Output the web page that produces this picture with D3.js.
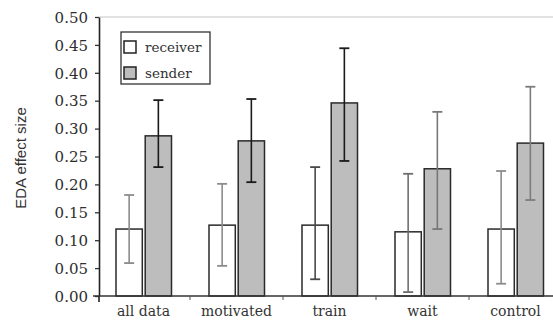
<!DOCTYPE html>
<html>
<head>
<meta charset="utf-8">
<script src="https://cdn.jsdelivr.net/npm/d3@7"></script>
<style>
    body { margin: 0; background: #fff; }
    svg { display: block; }
</style>
</head>
<body>
<svg id="chart" width="553" height="321"></svg>
<script>
// data
const categories = ["all data", "motivated", "train", "wait", "control"]
const series = ["receiver", "sender"]
const receiverMean = [0.120, 0.127, 0.127, 0.115, 0.120]
const receiverLow = [0.059, 0.054, 0.030, 0.007, 0.022]
const receiverHigh = [0.181, 0.201, 0.231, 0.219, 0.224]
const senderMean = [0.287, 0.278, 0.346, 0.228, 0.274]
const senderLow = [0.231, 0.204, 0.242, 0.120, 0.172]
const senderHigh = [0.351, 0.353, 0.444, 0.330, 0.375]
const yTicks = [0, 0.05, 0.10, 0.15, 0.20, 0.25, 0.30, 0.35, 0.40, 0.45, 0.50]

// styling (the scan has error bars in different greys)
const receiverErrColor = ["#8c8c8c", "#8c8c8c", "#4a4a4a", "#6e6e6e", "#8c8c8c"]
const senderErrColor = ["#1a1a1a", "#1a1a1a", "#1a1a1a", "#777777", "#7c7c7c"]
const serif = "'DejaVu Serif', serif"

const svg = d3.select("#chart")

const x = d3.scaleBand()
            .domain(categories)
            .range([97, 562])

const inner = d3.scaleBand()
                .domain(series)
                .range([x.bandwidth() / 2 - 27.5, x.bandwidth() / 2 + 28])
                .paddingInner(0.1)

const y = d3.scaleLinear()
            .domain([0, 0.5])
            .range([296, 17])

const fills = {receiver: "#ffffff", sender: "#bdbdbd"}

// top frame line
svg.append("line")
   .attr("x1", 99).attr("x2", 553)
   .attr("y1", y(0.5)).attr("y2", y(0.5))
   .attr("stroke", "#d8d8d8")
   .attr("stroke-width", 1.5)

// build rows from the arrays
let rows = []
categories.forEach((c, i) => {
    rows.push({cat: c, s: "receiver", mean: receiverMean[i], lo: receiverLow[i], hi: receiverHigh[i], col: receiverErrColor[i]})
    rows.push({cat: c, s: "sender", mean: senderMean[i], lo: senderLow[i], hi: senderHigh[i], col: senderErrColor[i]})
})

const groups = svg.append("g")
                  .selectAll("g")
                  .data(rows)
                  .enter()
                  .append("g")
                  .attr("transform", d => "translate(" + (x(d.cat) + inner(d.s)) + ",0)")

groups.append("rect")
      .attr("x", 0)
      .attr("width", inner.bandwidth())
      .attr("y", d => y(d.mean))
      .attr("height", d => y(0) - y(d.mean))
      .attr("fill", d => fills[d.s])
      .attr("stroke", "#2a2a2a")
      .attr("stroke-width", 1.5)

groups.each(function (d) {
    let g = d3.select(this)
    let cx = inner.bandwidth() / 2
    g.append("line")
     .attr("x1", cx).attr("x2", cx)
     .attr("y1", y(d.hi)).attr("y2", y(d.lo))
     .attr("stroke", d.col)
     .attr("stroke-width", 1.6)
    g.selectAll(".cap")
     .data([d.hi, d.lo])
     .enter()
     .append("line")
     .attr("x1", cx - 5).attr("x2", cx + 5)
     .attr("y1", v => y(v)).attr("y2", v => y(v))
     .attr("stroke", d.col)
     .attr("stroke-width", 1.8)
})

// y axis
const yAxis = svg.append("g")
                 .attr("transform", "translate(99,0)")
                 .call(d3.axisLeft(y).tickValues(yTicks).tickFormat(d3.format(".2f")).tickSize(4).tickSizeOuter(0))
yAxis.select(".domain").attr("stroke", "#222").attr("stroke-width", 1.6)
yAxis.selectAll(".tick line").attr("stroke", "#333").attr("stroke-width", 1.3)
yAxis.selectAll(".tick text")
     .attr("font-family", serif)
     .attr("font-size", "15px")
     .attr("fill", "#2e2e2e")
     .attr("x", -11)
     .attr("dy", "0.35em")
svg.append("line")
   .attr("x1", 99).attr("x2", 99)
   .attr("y1", y(0)).attr("y2", y(0) + 6)
   .attr("stroke", "#222").attr("stroke-width", 1.6)

// x axis
svg.append("line")
   .attr("x1", 93).attr("x2", 553)
   .attr("y1", y(0)).attr("y2", y(0))
   .attr("stroke", "#333").attr("stroke-width", 1.3)

svg.append("g")
   .selectAll("line")
   .data(categories.slice(1))
   .enter()
   .append("line")
   .attr("x1", c => x(c)).attr("x2", c => x(c))
   .attr("y1", y(0)).attr("y2", y(0) + 4)
   .attr("stroke", "#555").attr("stroke-width", 1)

svg.append("g")
   .selectAll("text")
   .data(categories)
   .enter()
   .append("text")
   .attr("font-family", serif)
   .attr("font-size", "14px")
   .attr("fill", "#333")
   .attr("x", c => x(c) + x.bandwidth() / 2)
   .attr("y", 316)
   .attr("text-anchor", "middle")
   .text(c => c)

// y label
svg.append("text")
   .attr("transform", "translate(26,158) rotate(-90)")
   .attr("text-anchor", "middle")
   .attr("font-family", "'Liberation Sans', Arial, sans-serif")
   .attr("font-size", "15px")
   .attr("fill", "#333")
   .text("EDA effect size")

// legend
const legend = svg.append("g").attr("transform", "translate(121,32)")
legend.append("rect")
      .attr("width", 89).attr("height", 52)
      .attr("fill", "#fff")
      .attr("stroke", "#333").attr("stroke-width", 1.3)
legend.selectAll("g")
      .data(series)
      .enter()
      .append("g")
      .attr("transform", (s, i) => "translate(3," + (9 + i * 26) + ")")
      .each(function (s) {
          d3.select(this)
            .append("rect")
            .attr("width", 12).attr("height", 12)
            .attr("fill", fills[s])
            .attr("stroke", "#222").attr("stroke-width", 1.5)
          d3.select(this)
            .append("text")
            .attr("font-family", serif)
            .attr("font-size", "13.5px")
            .attr("fill", "#333")
            .attr("x", 21).attr("y", 11)
            .text(s)
      })
</script>
</body>
</html>
